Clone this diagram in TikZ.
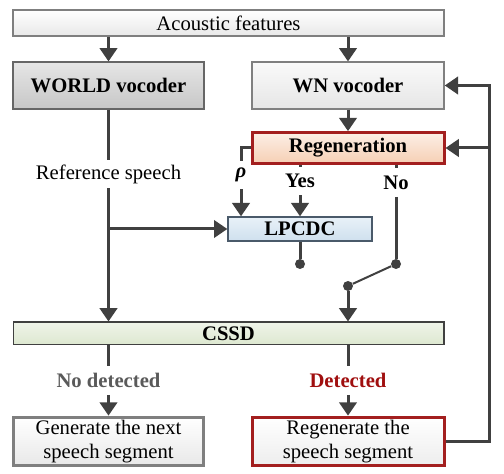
\documentclass[tikz,border=0pt]{standalone}
\usepackage{fontspec}
\setmainfont{Liberation Serif}
\usetikzlibrary{arrows.meta}
\usetikzlibrary{calc}
\definecolor{ln}{HTML}{404040}
\definecolor{greyedge}{HTML}{7F7F7F}
\definecolor{rededge}{HTML}{A31F1F}
\definecolor{redtext}{HTML}{A00F0F}
\definecolor{greytext}{HTML}{5A5A5A}
\definecolor{peachtop}{HTML}{FCEFE6}
\definecolor{peachbot}{HTML}{F6CFB4}
\definecolor{bluetop}{HTML}{E8F1F8}
\definecolor{bluebot}{HTML}{CFE0EE}
\definecolor{blueedge}{HTML}{4A5A6A}
\definecolor{greentop}{HTML}{EFF4E9}
\definecolor{greenbot}{HTML}{DDE8D0}
\tikzset{l/.style={font=\fontsize{15.5}{18.5}\selectfont}}
\tikzset{b/.style={font=\fontsize{15.5}{18.5}\selectfont\bfseries}}
\tikzset{blk/.style={draw, inner sep=0pt, align=center}}
\tikzset{tag/.style={inner sep=0pt, minimum height=21pt}}
\tikzset{wire/.style={draw=ln, line width=2.25pt}}
\tikzset{arr/.style={wire, -{Triangle[width=13pt,length=10pt]}}}
\tikzset{dot/.style={circle, fill=ln, inner sep=0pt, minimum size=7.5pt}}

\begin{document}
\begin{tikzpicture}[x=0.75pt, y=-0.75pt]
  \useasboundingbox (0,0) rectangle (504,474);
  % boxes
  \node (af) at (228.5,23) [blk, l, draw=greyedge, line width=1.5pt, top color=white, bottom color={black!9},
    minimum width=323pt, minimum height=19.5pt] {Acoustic features};
  \node (world) at (108.5,85.5) [blk, b, draw=black!60, line width=1.1pt, top color={black!10}, bottom color={black!22},
    minimum width=143pt, minimum height=35pt] {WORLD vocoder};
  \node (wn) at (348,85.5) [blk, b, draw=black!50, line width=1.1pt, top color={black!2}, bottom color={black!10},
    minimum width=144pt, minimum height=35pt] {WN vocoder};
  \node (regen) at (348,148) [blk, b, draw=rededge, line width=2.25pt, top color=peachtop, bottom color=peachbot,
    minimum width=144pt, minimum height=23pt] {Regeneration};
  \node (lpcdc) at (300,229) [blk, b, draw=blueedge, line width=1pt, top color=bluetop, bottom color=bluebot,
    minimum width=108pt, minimum height=18pt] {LPCDC};
  \node (cssd) at (228.5,333.5) [blk, b, draw=black!75, line width=1pt, top color=greentop, bottom color=greenbot,
    minimum width=323pt, minimum height=17pt] {CSSD};
  \node (next) at (108.5,441.5) [blk, l, draw=greyedge, line width=2.25pt, top color=white, bottom color={black!9},
    minimum width=143pt, minimum height=36.5pt] {Generate the next\\speech segment};
  \node (reseg) at (348,441.5) [blk, l, draw=rededge, line width=2.25pt, top color=white, bottom color={black!7},
    minimum width=144pt, minimum height=36.5pt] {Regenerate the\\speech segment};

  % labels on the wires
  \node (ref) at (108.5,174) [tag, l] {Reference speech};
  \node (rho) at (241,175) [tag, b] {\itshape ρ};
  \node (yes) at (300,181) [tag, b] {Yes};
  \node (no) at (396,182.5) [tag, b] {No};
  \node (nodet) at (108.5,380.5) [tag, b, text=greytext] {No detected};
  \node (det) at (348,380.5) [tag, b, text=redtext] {Detected};

  % switch
  \node (d1) at (300,264) [dot] {};
  \node (d2) at (396,264) [dot] {};
  \node (d3) at (348,286) [dot] {};
  \coordinate (fb) at (489,0);

  % connectors
  \draw [arr] (af.south -| world.north) -- (world.north);
  \draw [arr] (af.south -| wn.north) -- (wn.north);
  \draw [arr] (wn) -- (regen);
  \draw [wire] (world.south) -- (ref.north);
  \draw [arr] (ref.south) -- (ref.south |- cssd.north);
  \draw [arr] (ref.south |- lpcdc.west) -- (lpcdc.west);
  \draw [wire] (regen.west) -| (rho.north);
  \draw [arr] (rho.south) -- (rho.south |- lpcdc.north);
  \draw [wire] (regen.south -| yes) -- (yes.north);
  \draw [arr] (yes.south) -- (yes.south |- lpcdc.north);
  \draw [wire] (regen.south -| no) -- (no.north);
  \draw [wire] (no.south) -- (d2);
  \draw [wire] (lpcdc.south -| d1) -- (d1);
  \draw [draw=ln, line width=1.5pt] (d2) -- (d3);
  \draw [arr] (d3) -- (d3 |- cssd.north);
  \draw [wire] (cssd.south -| nodet) -- (nodet.north);
  \draw [arr] (nodet.south) -- (next.north);
  \draw [wire] (cssd.south -| det) -- (det.north);
  \draw [arr] (det.south) -- (reseg.north);
  \draw [arr] (reseg.east) -| (fb |- wn.east) -- (wn.east);
  \draw [arr] (fb |- regen.east) -- (regen.east);
\end{tikzpicture}
\end{document}
